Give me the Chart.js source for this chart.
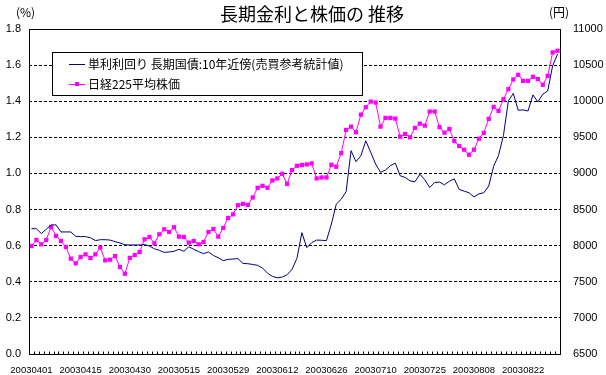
<!DOCTYPE html>
<html>
<head>
<meta charset="utf-8">
<script src="https://cdn.jsdelivr.net/npm/chart.js@4/dist/chart.umd.min.js"></script>
<style>
  html, body { margin: 0; padding: 0; background: #fff; }
  canvas { display: block; }
</style>
</head>
<body>
<canvas id="chart" width="606" height="375"></canvas>
<script>
const dates = [
  '20030401','20030402','20030403','20030404','20030407','20030408','20030409','20030410','20030411','20030414',
  '20030415','20030416','20030417','20030418','20030421','20030422','20030423','20030424','20030425','20030428',
  '20030430','20030501','20030502','20030506','20030507','20030508','20030509','20030512','20030513','20030514',
  '20030515','20030516','20030519','20030520','20030521','20030522','20030523','20030526','20030527','20030528',
  '20030529','20030530','20030602','20030603','20030604','20030605','20030606','20030609','20030610','20030611',
  '20030612','20030613','20030616','20030617','20030618','20030619','20030620','20030623','20030624','20030625',
  '20030626','20030627','20030630','20030701','20030702','20030703','20030704','20030707','20030708','20030709',
  '20030710','20030711','20030714','20030715','20030716','20030717','20030718','20030722','20030723','20030724',
  '20030725','20030728','20030729','20030730','20030731','20030801','20030804','20030805','20030806','20030807',
  '20030808','20030811','20030812','20030813','20030814','20030815','20030818','20030819','20030820','20030821',
  '20030822','20030825','20030826','20030827','20030828','20030829','20030901','20030902'
];

// 単利利回り 長期国債 10年 (%)
const yieldPct = [
  0.694, 0.694, 0.667, 0.691, 0.715, 0.715, 0.676, 0.676, 0.676, 0.652,
  0.650, 0.650, 0.644, 0.628, 0.633, 0.633, 0.631, 0.622, 0.615, 0.605,
  0.604, 0.604, 0.604, 0.606, 0.598, 0.583, 0.574, 0.563, 0.565, 0.569,
  0.580, 0.569, 0.594, 0.580, 0.567, 0.556, 0.565, 0.546, 0.533, 0.517,
  0.524, 0.526, 0.528, 0.502, 0.500, 0.496, 0.491, 0.476, 0.448, 0.430,
  0.422, 0.426, 0.439, 0.469, 0.530, 0.672, 0.589, 0.617, 0.631, 0.630,
  0.628, 0.720, 0.830, 0.857, 0.900, 1.126, 1.065, 1.098, 1.181, 1.117,
  1.052, 1.006, 1.019, 1.043, 1.057, 0.987, 0.978, 0.959, 0.954, 0.996,
  0.965, 0.922, 0.950, 0.952, 0.937, 0.957, 0.970, 0.911, 0.902, 0.893,
  0.870, 0.887, 0.893, 0.930, 1.040, 1.100, 1.211, 1.402, 1.443, 1.350,
  1.352, 1.346, 1.435, 1.396, 1.439, 1.457, 1.596, 1.661
];

// 日経225平均株価 (円)
const nikkei = [
  7995, 8079, 8018, 8079, 8259, 8134, 8065, 7981, 7820, 7755,
  7843, 7880, 7829, 7880, 7972, 7796, 7806, 7856, 7704, 7611,
  7831, 7870, 7912, 8088, 8120, 8032, 8157, 8227, 8190, 8255,
  8125, 8120, 8042, 8065, 8019, 8051, 8190, 8231, 8125, 8245,
  8384, 8433, 8560, 8579, 8565, 8667, 8801, 8829, 8801, 8903,
  8931, 8995, 8856, 9046, 9106, 9116, 9125, 9139, 8931, 8944,
  8944, 9120, 9093, 9282, 9602, 9648, 9570, 9815, 9917, 9995,
  9982, 9648, 9769, 9769, 9759, 9509, 9546, 9500, 9630, 9690,
  9662, 9857, 9857, 9641, 9565, 9616, 9449, 9380, 9329, 9259,
  9329, 9481, 9560, 9755, 9921, 9866, 10028, 10167, 10301, 10366,
  10282, 10282, 10338, 10306, 10227, 10352, 10676, 10699
];

const leftTicks = [0, 0.2, 0.4, 0.6, 0.8, 1.0, 1.2, 1.4, 1.6, 1.8];
const rightTicks = [6500, 7000, 7500, 8000, 8500, 9000, 9500, 10000, 10500, 11000];

const seriesNames = ['単利利回り 長期国債:10年近傍(売買参考統計値)', '日経225平均株価'];
const titleText = '長期金利と株価の 推移';

const tickFont = { family: 'Liberation Sans', size: 11 };

const decor = {
  id: 'decor',
  beforeDraw(chart) {
    const ctx = chart.ctx;
    ctx.save();
    ctx.fillStyle = '#fff';
    ctx.fillRect(0, 0, chart.width, chart.height);
    ctx.restore();
  },
  afterDraw(chart) {
    const { ctx, chartArea: a } = chart;
    ctx.save();
    // plot frame
    ctx.strokeStyle = '#000';
    ctx.lineWidth = 1;
    const l = Math.round(a.left) + 0.5, t = Math.round(a.top) + 0.5;
    const r = Math.round(a.right) + 0.5, b = Math.round(a.bottom) + 0.5;
    ctx.strokeRect(l, t, r - l, b - t);

    // small category ticks pointing up from the x axis
    const xs = chart.scales.x;
    const w = xs.getPixelForValue(1) - xs.getPixelForValue(0);
    ctx.beginPath();
    for (let i = 1; i < dates.length; i++) {
      const px = Math.round(xs.getPixelForValue(i) - w / 2) + 0.5;
      ctx.moveTo(px, b);
      ctx.lineTo(px, b - 3);
    }
    ctx.stroke();

    // title and unit labels
    ctx.fillStyle = '#000';
    ctx.textBaseline = 'middle';
    ctx.textAlign = 'center';
    ctx.font = '18px "Noto Sans CJK JP"';
    ctx.fillText(titleText, 312, 14);
    ctx.font = '12px "Noto Sans CJK JP"';
    ctx.textAlign = 'left';
    ctx.fillText('(%)', 16, 12);
    ctx.fillText('(円)', 549, 12);

    // legend box
    const bx = 52.5, by = 52.5, bw = 310, bh = 43;
    ctx.fillStyle = '#fff';
    ctx.fillRect(bx, by, bw, bh);
    ctx.strokeStyle = '#000';
    ctx.strokeRect(bx, by, bw, bh);
    const ds = chart.data.datasets;
    const rows = [64.5, 84.5];
    ds.forEach((d, i) => {
      const y = rows[i];
      ctx.strokeStyle = d.borderColor;
      ctx.lineWidth = 1;
      ctx.beginPath();
      ctx.moveTo(69, y);
      ctx.lineTo(85, y);
      ctx.stroke();
      if (d.pointRadius > 0) {
        ctx.fillStyle = d.pointBackgroundColor;
        ctx.fillRect(75, y - 2.5, 4, 4);
      }
      ctx.fillStyle = '#000';
      ctx.font = '12px "Noto Sans CJK JP"';
      ctx.textAlign = 'left';
      ctx.fillText(d.label, 88, y);
    });
    ctx.restore();
  }
};

new Chart(document.getElementById('chart').getContext('2d'), {
  type: 'line',
  data: {
    labels: dates,
    datasets: [
      {
        label: seriesNames[0],
        data: yieldPct,
        yAxisID: 'y',
        borderColor: '#000080',
        borderWidth: 1,
        pointRadius: 0,
        tension: 0
      },
      {
        label: seriesNames[1],
        data: nikkei,
        yAxisID: 'y2',
        borderColor: '#FF00FF',
        backgroundColor: '#FF00FF',
        pointBackgroundColor: '#FF00FF',
        borderWidth: 1,
        pointStyle: 'rect',
        pointRadius: 3,
        pointBorderWidth: 0,
        tension: 0
      }
    ]
  },
  options: {
    responsive: false,
    animation: false,
    layout: { padding: { top: 29, left: 0, right: 0, bottom: 0 } },
    plugins: {
      legend: { display: false },
      title: { display: false },
      tooltip: { enabled: false }
    },
    scales: {
      x: {
        type: 'category',
        offset: true,
        grid: { display: false },
        border: { display: false },
        ticks: {
          autoSkip: false,
          maxRotation: 0,
          minRotation: 0,
          padding: 3,
          color: '#000',
          font: { family: 'Liberation Sans', size: 9.5 },
          callback: (v, i) => (i % 10 === 0 ? dates[i] : '')
        },
        afterFit: s => { s.height = 21; }
      },
      y: {
        position: 'left',
        min: 0,
        max: 1.8,
        afterBuildTicks: s => { s.ticks = leftTicks.map(v => ({ value: v })); },
        grid: {
          drawTicks: false,
          lineWidth: 1,
          color: c => (c.index > 0 && c.index < leftTicks.length - 1 ? '#000' : 'rgba(0,0,0,0)')
        },
        border: { display: false, dash: [3, 2] },
        ticks: {
          padding: 8,
          color: '#000',
          font: tickFont,
          callback: v => Number(v).toFixed(1)
        },
        afterFit: s => { s.width = 29; }
      },
      y2: {
        position: 'right',
        min: 6500,
        max: 11000,
        afterBuildTicks: s => { s.ticks = rightTicks.map(v => ({ value: v })); },
        grid: { drawOnChartArea: false, drawTicks: false },
        border: { display: false },
        ticks: {
          padding: 13,
          color: '#000',
          font: tickFont,
          callback: v => String(v)
        },
        afterFit: s => { s.width = 46; }
      }
    }
  },
  plugins: [decor]
});
</script>
</body>
</html>
